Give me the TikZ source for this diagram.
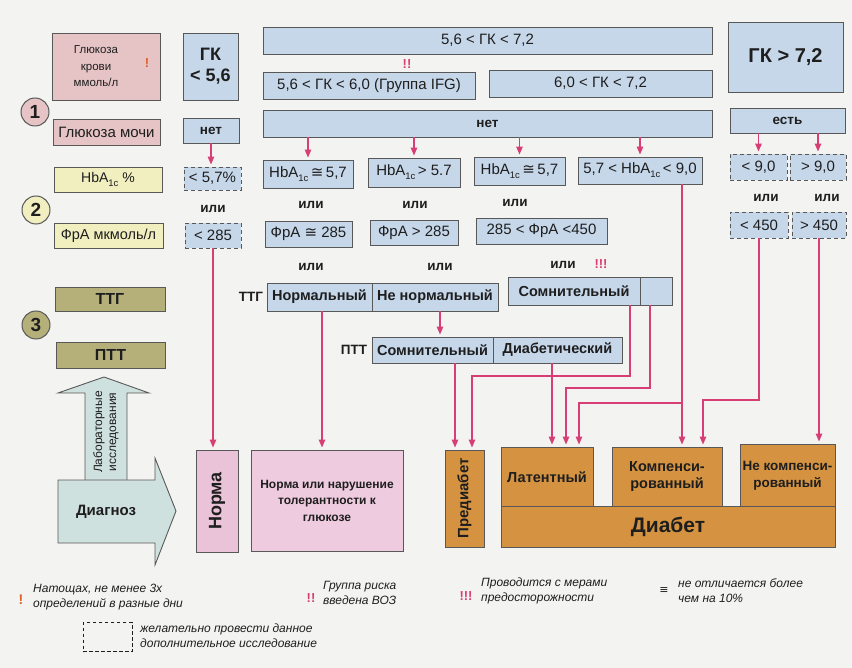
\documentclass[tikz,border=0pt]{standalone}
\usepackage{fontspec}
\setmainfont{Liberation Sans}
\newfontfamily\symfont{DejaVu Sans}
\usetikzlibrary{arrows.meta,calc}
\definecolor{bgc}{HTML}{F3F3F1}
\definecolor{bluef}{HTML}{C6D7EA}
\definecolor{pinkf}{HTML}{E6C4C6}
\definecolor{yelf}{HTML}{F1EEC0}
\definecolor{olivef}{HTML}{B5B07A}
\definecolor{tealf}{HTML}{CFE1DE}
\definecolor{normf}{HTML}{EBC3D8}
\definecolor{normlf}{HTML}{EFCBE0}
\definecolor{orangef}{HTML}{D59341}
\definecolor{linec}{HTML}{D83E76}
\definecolor{bordc}{HTML}{585858}
\definecolor{exc}{HTML}{E0602A}
\definecolor{txt}{HTML}{1E1E1E}
\newcommand\fsz[2]{\fontsize{#1}{#2}\selectfont}
\newcommand\lsub[1]{\raisebox{-0.5ex}{\fontsize{9.5}{9.5}\selectfont #1}}
\newcommand\apx{{\symfont ≅}}
\tikzset{
 bx/.style={draw=bordc, line width=0.9pt, inner sep=0pt, align=center, text=txt},
 bluebox/.style={bx, fill=bluef},
 dbox/.style={bx, fill=bluef, dash pattern=on 4pt off 3pt},
 circ/.style={circle, draw=bordc, line width=1pt, minimum size=28pt, inner sep=0pt, text=txt, font=\bfseries\fsz{19}{19}},
 lbl/.style={text=txt, inner sep=1pt},
 orl/.style={text=txt, inner sep=1pt, font=\bfseries\fsz{13.5}{14}},
 conn/.style={draw=linec, line width=1.2pt},
 arr/.style={conn, -{Triangle[length=8pt,width=6.5pt]}, shorten >=2pt},
 reg/.style={font=\fsz{15}{17}},
 bld/.style={font=\bfseries\fsz{13.5}{15}},
 bigb/.style={font=\bfseries\fsz{14.5}{17}},
 leg/.style={anchor=west, align=left, text=txt, inner sep=0pt, font=\itshape\fsz{12}{15}},
}
\begin{document}
\begin{tikzpicture}[x=1pt,y=-1pt]
\useasboundingbox (0,0) rectangle (852,668);
\fill[bgc] (0,0) rectangle (852,668);

% ---------- left column ----------
\node[bx, fill=pinkf, minimum width=108pt, minimum height=67pt] (gkb) at (106,66.5) {};
\node[lbl, align=center, font=\fsz{11.5}{16.5}] (gkbt) at (96,66.5) {Глюкоза\\крови\\ммоль/л};
\node[lbl, text=exc, font=\bfseries\fsz{13}{13}] (ex1) at (147,63) {!};
\node[circ, fill=pinkf] (c1) at (35,112) {1};
\node[bx, fill=pinkf, minimum width=107pt, minimum height=26pt, reg] (urine) at (106.5,132) {Глюкоза мочи};
\node[bx, fill=yelf, minimum width=108pt, minimum height=25pt, font=\fsz{14}{16}] (hba) at (108,179.5) {HbA\lsub{1c} \%};
\node[circ, fill=yelf] (c2) at (36,210) {2};
\node[bx, fill=yelf, minimum width=109pt, minimum height=25pt, font=\fsz{14.5}{16}] (fra) at (108.5,235.5) {ФрА мкмоль/л};
\node[bx, fill=olivef, minimum width=110pt, minimum height=24pt, font=\bfseries\fsz{16}{17}] (ttgl) at (110,299) {ТТГ};
\node[circ, fill=olivef] (c3) at (36,325) {3};
\node[bx, fill=olivef, minimum width=109pt, minimum height=26pt, font=\bfseries\fsz{16}{17}] (pttl) at (110.5,355) {ПТТ};

% big arrows
\draw[fill=tealf, draw=bordc, line width=0.9pt] (85,481) -- (85,393) -- (58,393) -- (104,377) -- (149,393) -- (127,393) -- (127,481);
\node[lbl, rotate=90, align=center, font=\fsz{12}{14}] (labt) at (106,432) {Лабораторные\\исследования};
\draw[fill=tealf, draw=bordc, line width=0.9pt] (58,480) -- (155,480) -- (155,458) -- (176,511) -- (155,565) -- (155,543) -- (58,543) -- cycle;
\node[lbl, font=\bfseries\fsz{15}{16}] (diagt) at (106,512) {Диагноз};

% ---------- column GK<5,6 ----------
\node[bluebox, minimum width=55pt, minimum height=67pt, font=\bfseries\fsz{18}{21}] (gk56) at (210.5,66.5) {ГК\\< 5,6};
\node[bluebox, minimum width=56pt, minimum height=25pt, bld] (net1) at (211,130.5) {нет};
\node[dbox, minimum width=57pt, minimum height=23pt, reg] (d57) at (212.5,178.5) {< 5,7\%};
\node[orl] (or1) at (213,209) {или};
\node[dbox, minimum width=56pt, minimum height=25pt, reg] (d285) at (213,235.5) {< 285};

% ---------- middle ----------
\node[bluebox, minimum width=449pt, minimum height=27pt, reg] (bar1) at (487.5,40.5) {5,6 < ГК < 7,2};
\node[lbl, text=linec, font=\bfseries\fsz{13}{13}] (ex2) at (407,64) {!!};
\node[bluebox, minimum width=212pt, minimum height=27pt, reg] (ifg) at (369,85.5) {5,6 < ГК < 6,0 (Группа IFG)};
\node[bluebox, minimum width=223pt, minimum height=27pt, reg] (b6072) at (600.5,83.5) {6,0 < ГК < 7,2};
\node[bluebox, minimum width=449pt, minimum height=27pt, bld] (net2) at (487.5,123.5) {нет};

\node[bluebox, minimum width=90pt, minimum height=28pt, reg] (h1) at (308,174) {HbA\lsub{1c}\,\apx\,5,7};
\node[bluebox, minimum width=92pt, minimum height=29pt, reg] (h2) at (414,172.5) {HbA\lsub{1c}\,> 5.7};
\node[bluebox, minimum width=91pt, minimum height=28pt, reg] (h3) at (519.5,171) {HbA\lsub{1c}\,\apx\,5,7};
\node[bluebox, minimum width=124pt, minimum height=27pt, reg] (h4) at (640,170.5) {5,7 < HbA\lsub{1c}\,< 9,0};

\node[orl] (or2) at (311,205) {или};
\node[orl] (or3) at (415,205) {или};
\node[orl] (or4) at (515,203) {или};

\node[bluebox, minimum width=87pt, minimum height=26pt, reg] (f1) at (308.5,234) {ФрА \apx\ 285};
\node[bluebox, minimum width=88pt, minimum height=25pt, reg] (f2) at (414,232.5) {ФрА > 285};
\node[bluebox, minimum width=131pt, minimum height=26pt, reg] (f3) at (541.5,231) {285 < ФрА <450};

\node[orl] (or5) at (311,267) {или};
\node[orl] (or6) at (440,267) {или};
\node[orl] (or7) at (563,265) {или};
\node[lbl, text=linec, font=\bfseries\fsz{13}{13}] (ex3) at (601,264) {!!!};

\node[lbl, font=\bfseries\fsz{13.5}{14}] (ttgw) at (251,297) {ТТГ};
\node[bluebox, minimum width=105pt, minimum height=28pt, bigb] (ttgN) at (319.5,297) {Нормальный};
\node[bluebox, minimum width=126pt, minimum height=28pt, bigb] (ttgNN) at (435,297) {Не нормальный};
\node[bluebox, minimum width=132pt, minimum height=28pt, bigb] (ttgS) at (574,291) {Сомнительный};
\node[bluebox, minimum width=32pt, minimum height=28pt] (ttgE) at (656,291) {};

\node[lbl, font=\bfseries\fsz{13.5}{14}] (pttw) at (354,350) {ПТТ};
\node[bluebox, minimum width=121pt, minimum height=26pt, bigb] (pttS) at (432.5,350) {Сомнительный};
\node[bluebox, minimum width=129pt, minimum height=26pt, bigb] (pttD) at (557.5,350) {Диабетический};

% ---------- right column ----------
\node[bluebox, minimum width=115pt, minimum height=70pt, font=\bfseries\fsz{20}{22}] (gk72) at (785.5,57) {ГК > 7,2};
\node[bluebox, minimum width=115pt, minimum height=25pt, bld] (est) at (787.5,120.5) {есть};
\node[dbox, minimum width=57pt, minimum height=26pt, reg] (d90a) at (758.5,167) {< 9,0};
\node[dbox, minimum width=56pt, minimum height=26pt, reg] (d90b) at (818,167) {> 9,0};
\node[orl] (or8) at (766,198) {или};
\node[orl] (or9) at (827,198) {или};
\node[dbox, minimum width=58pt, minimum height=26pt, reg] (d450a) at (759,225) {< 450};
\node[dbox, minimum width=54pt, minimum height=26pt, reg] (d450b) at (819,225) {> 450};

% ---------- bottom diagnosis boxes ----------
\node[bx, fill=normf, minimum width=42pt, minimum height=102pt] (norma) at (217,501) {};
\node[lbl, rotate=90, font=\bfseries\fsz{18}{19}] (normat) at (217,501) {Норма};
\node[bx, fill=normlf, minimum width=152pt, minimum height=101pt, font=\bfseries\fsz{12}{16.5}] (nili) at (327,500.5) {Норма или нарушение\\толерантности к\\глюкозе};
\node[bx, fill=orangef, minimum width=39pt, minimum height=97pt] (pred) at (464.5,498.5) {};
\node[lbl, rotate=90, font=\bfseries\fsz{15}{16}] (predt) at (464.5,498.5) {Предиабет};
\node[bx, fill=orangef, minimum width=92pt, minimum height=60pt, bigb] (lat) at (547,477) {Латентный};
\node[bx, fill=orangef, minimum width=110pt, minimum height=60pt, bigb] (komp) at (667,477) {Компенси-\\рованный};
\node[bx, fill=orangef, minimum width=95pt, minimum height=63pt, font=\bfseries\fsz{13.5}{17}] (nekomp) at (787.5,475.5) {Не компенси-\\рованный};
\node[bx, fill=orangef, minimum width=334pt, minimum height=41pt, font=\bfseries\fsz{21}{22}] (diab) at (668,526.5) {Диабет};

% ---------- connectors ----------
\draw[arr] (net1.south) -- (net1.south |- d57.north);
\draw[arr] (h1.north |- net2.south) -- (h1.north);
\draw[arr] (h2.north |- net2.south) -- (h2.north);
\draw[arr] (h3.north |- net2.south) -- (h3.north);
\draw[arr] (h4.north |- net2.south) -- (h4.north);
\draw[arr] (d90a.north |- est.south) -- (d90a.north);
\draw[arr] (d90b.north |- est.south) -- (d90b.north);
\draw[arr] (d285.south) -- (d285.south |- norma.north);
\draw[arr] (322,0 |- ttgN.south) -- (322,0 |- nili.north);
\draw[arr] (440,0 |- ttgNN.south) -- (440,0 |- pttS.north);
\draw[arr] (455,0 |- pttS.south) -- (455,0 |- pred.north);
\draw[arr] (630,0 |- ttgS.south) |- (472,376) -- (472,0 |- pred.north);
\draw[arr] (552,0 |- pttD.south) -- (552,0 |- lat.north);
\draw[arr] (650,0 |- ttgE.south) |- (566,388) -- (566,0 |- lat.north);
\draw[arr] (682,0 |- h4.south) -- (682,0 |- komp.north);
\draw[arr] (682,403) -| (579,0 |- lat.north);
\draw[arr] (d450a.south) |- (703,400) -- (703,0 |- komp.north);
\draw[arr] (d450b.south) -- (d450b.south |- nekomp.north);

% ---------- legend ----------
\node[lbl, text=exc, font=\bfseries\fsz{14}{14}] (l1m) at (21,600) {!};
\node[leg] (l1t) at (33,597) {Натощах, не менее 3х\\определений в разные дни};
\node[lbl, text=linec, font=\bfseries\fsz{13}{13}] (l2m) at (311,598) {!!};
\node[leg] (l2t) at (323,593) {Группа риска\\введена ВОЗ};
\node[lbl, text=linec, font=\bfseries\fsz{13}{13}] (l3m) at (466,596) {!!!};
\node[leg] (l3t) at (481,591) {Проводится с мерами\\предосторожности};
\node[lbl, font=\fsz{11}{11}] (l4m) at (664,591) {{\symfont ≡}};
\node[leg] (l4t) at (678,591) {не отличается более\\чем на 10\%};
\node[draw=txt, line width=0.9pt, dash pattern=on 3.5pt off 2.5pt, minimum width=49pt, minimum height=29pt, inner sep=0pt] (ldb) at (107.5,637) {};
\node[leg] (l5t) at (140,636) {желательно провести данное\\дополнительное исследование};
\end{tikzpicture}
\end{document}
